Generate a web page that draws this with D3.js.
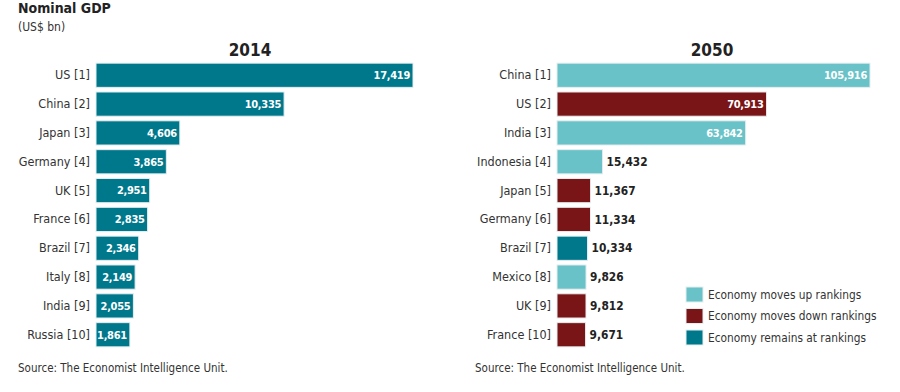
<!DOCTYPE html>
<html><head><meta charset="utf-8">
<script src="https://cdn.jsdelivr.net/npm/d3@7"></script>
<style>
body{margin:0;background:#fff;}
text{font-family:"Liberation Sans Narrow","DejaVu Sans Condensed","Roboto",sans-serif;}
</style></head>
<body><svg id="c" width="900" height="392"></svg>
<script>
const countries2014 = ["US [1]","China [2]","Japan [3]","Germany [4]","UK [5]","France [6]","Brazil [7]","Italy [8]","India [9]","Russia [10]"];
const values2014 = [17419,10335,4606,3865,2951,2835,2346,2149,2055,1861];
const countries2050 = ["China [1]","US [2]","India [3]","Indonesia [4]","Japan [5]","Germany [6]","Brazil [7]","Mexico [8]","UK [9]","France [10]"];
const values2050 = [105916,70913,63842,15432,11367,11334,10334,9826,9812,9671];
const status2050 = ["up","down","up","up","down","down","same","up","down","down"];
const legendKeys = ["up","down","same"];
const legendLabels = ["Economy moves up rankings","Economy moves down rankings","Economy remains at rankings"];

const color = d3.scaleOrdinal().domain(["up","down","same"]).range(["#69c2c7","#7a1517","#00788c"]);
const svg = d3.select("#c");
const fmt = d3.format(",");
const textCol = "#333";
const FONT = '"Liberation Sans Narrow","DejaVu Sans Condensed",sans-serif';

svg.append("text").attr("x",18).attr("y",13).attr("font-size",14).attr("font-weight","bold").attr("fill","#222").text("Nominal GDP");
svg.append("text").attr("x",18).attr("y",31).attr("font-size",12).attr("fill",textCol).text("(US$ bn)");

function panel(cats, vals, statuses, x0, x1, title, titleX, srcX, insideMin){
  const x = d3.scaleLinear().domain([0, d3.max(vals)]).range([x0, x1]);
  const y = d3.scaleBand().domain(cats).range([62, 348]).paddingInner(0.16).paddingOuter(0.04);
  svg.append("text").attr("x",titleX).attr("y",56).attr("text-anchor","middle").attr("font-size",17).attr("font-weight","bold").attr("fill","#222").text(title);
  const axg = svg.append("g").attr("transform",`translate(${x0},0)`).call(d3.axisLeft(y).tickSize(0).tickPadding(6));
  axg.select(".domain").remove();
  axg.selectAll("text").attr("font-size",12.5).attr("fill",textCol).style("font-family",FONT);
  const g = svg.append("g");
  g.selectAll("rect").data(cats).join("rect")
    .attr("x",x0).attr("y",d=>y(d)).attr("height",y.bandwidth())
    .attr("width",(d,i)=>x(vals[i])-x0)
    .attr("fill",(d,i)=>color(statuses[i]))
    .attr("stroke","#e6eef0").attr("stroke-width",1);
  g.selectAll("text.v").data(cats).join("text").attr("class","v")
    .attr("y",d=>y(d)+y.bandwidth()/2).attr("dy","0.35em")
    .attr("font-weight","bold")
    .each(function(d,i){
      const w = x(vals[i])-x0;
      const t = d3.select(this).text(fmt(vals[i]));
      if (w > insideMin) { t.attr("x",x(vals[i])-3).attr("text-anchor","end").attr("fill","#fff").attr("font-size",11).attr("letter-spacing",-0.3); }
      else { t.attr("x",x(vals[i])+4).attr("text-anchor","start").attr("fill","#222").attr("font-size",11.8); }
    });
  svg.append("text").attr("x",srcX).attr("y",372).attr("font-size",11.5).attr("fill",textCol).text("Source: The Economist Intelligence Unit.");
}

panel(countries2014, values2014, countries2014.map(()=>"same"), 96, 413, "2014", 250, 18, 0);
panel(countries2050, values2050, status2050, 557, 870, "2050", 712, 475, 80);

const lg = svg.append("g");
legendKeys.forEach((k,i)=>{
  lg.append("rect").attr("x",686).attr("y",287+i*21.5).attr("width",17).attr("height",15).attr("fill",color(k)).attr("stroke","#e6eef0");
  lg.append("text").attr("x",708).attr("y",294.5+i*21.5).attr("dy","0.35em").attr("font-size",11.8).attr("fill",textCol).text(legendLabels[i]);
});
</script></body></html>
